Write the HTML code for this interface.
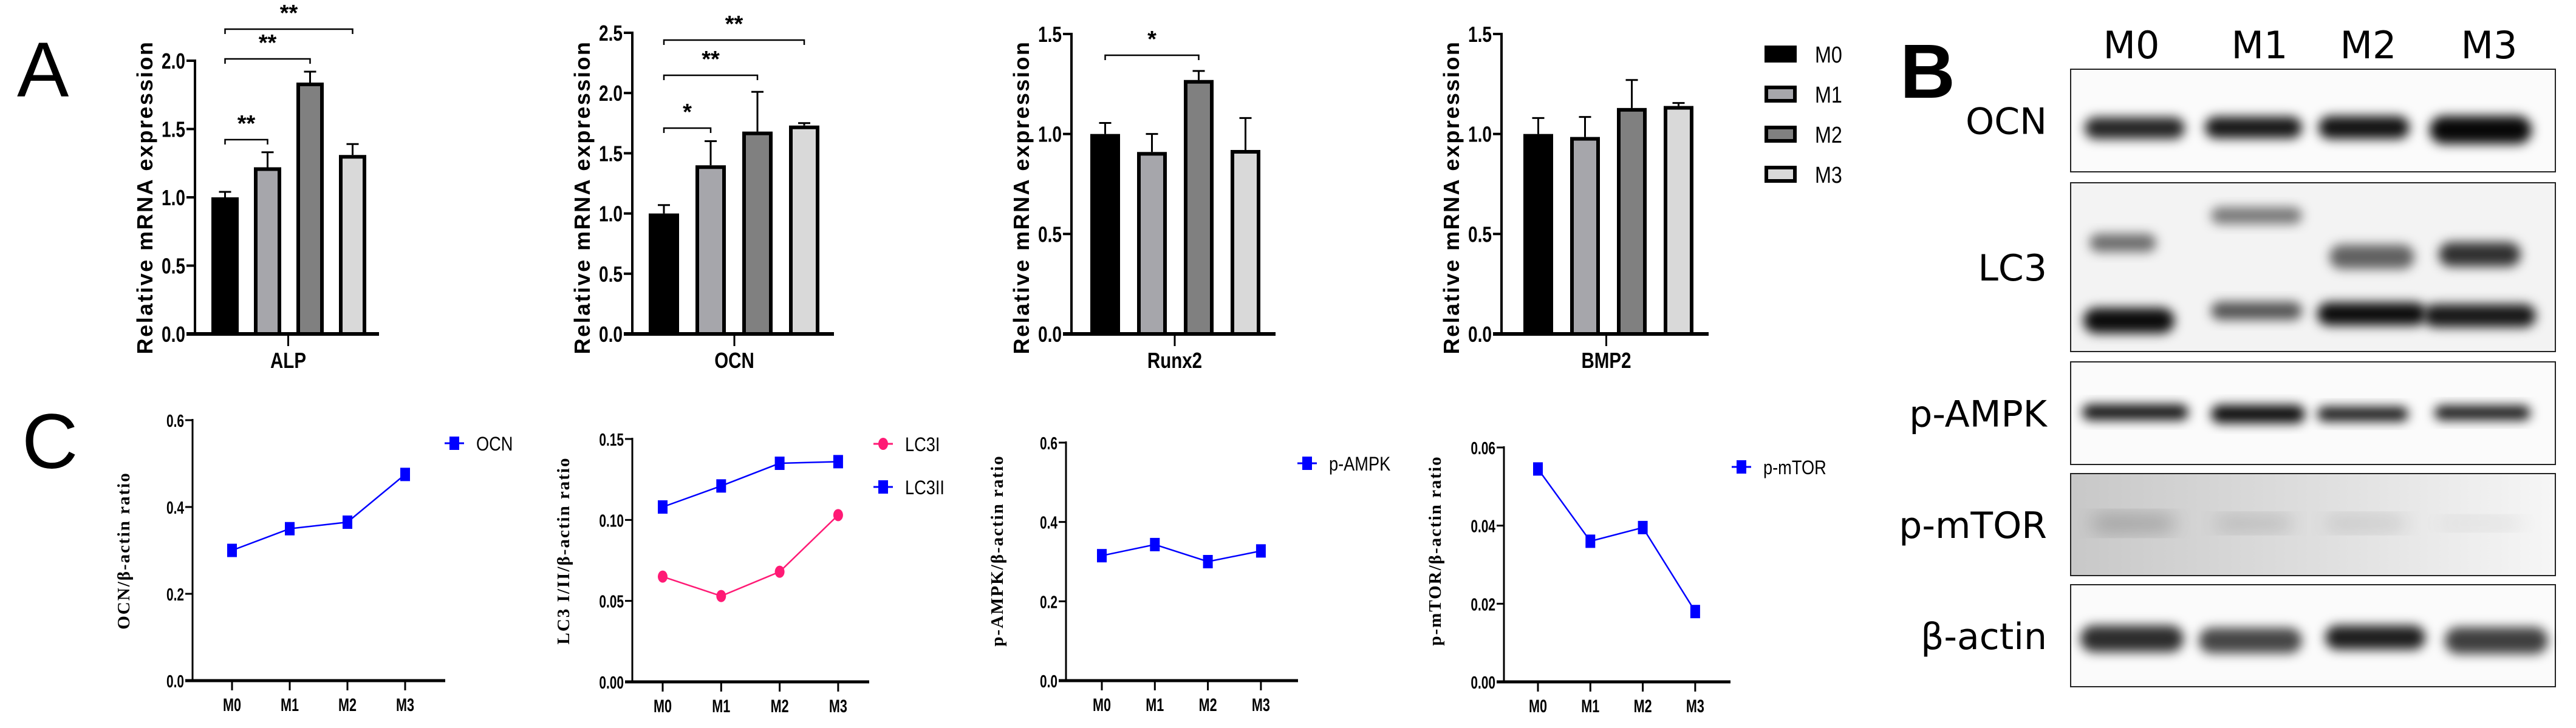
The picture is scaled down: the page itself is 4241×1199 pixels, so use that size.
<!DOCTYPE html>
<html><head><meta charset="utf-8"><style>
html,body{margin:0;padding:0;background:#fff;}
svg{display:block;}
.tk{font-family:"Liberation Sans",sans-serif;font-weight:bold;}
</style></head><body>
<svg id="fig" width="4241" height="1199" viewBox="0 0 4241 1199" xmlns="http://www.w3.org/2000/svg">
<defs>
<filter id="blur" x="-20%" y="-60%" width="140%" height="220%"><feGaussianBlur stdDeviation="9"/></filter>
<filter id="blur2" x="-20%" y="-60%" width="140%" height="220%"><feGaussianBlur stdDeviation="16"/></filter>
<linearGradient id="mtorbg" x1="0" x2="1" y1="0" y2="0"><stop offset="0" stop-color="#c8c8c8"/><stop offset="0.5" stop-color="#dedede"/><stop offset="1" stop-color="#f6f6f6"/></linearGradient>
</defs>
<text x="28" y="159" font-family="Liberation Sans,sans-serif" font-size="128" fill="#000">A</text>
<text x="3128" y="161" font-family="Liberation Sans,sans-serif" font-weight="bold" font-size="126" fill="#000">B</text>
<text x="36" y="771" font-family="Liberation Sans,sans-serif" font-size="128" fill="#000">C</text>
<g id="bars"></g>
<g id="lines"></g>
<g id="blots"></g>
</svg>
<script>
const NS="http://www.w3.org/2000/svg";
function mk(tag,attrs,parent){const e=document.createElementNS(NS,tag);for(const k in attrs)e.setAttribute(k,attrs[k]);parent.appendChild(e);return e;}

// ---------- Panel A data ----------
const groups=["M0","M1","M2","M3"];
const alpMean=[1.0,1.22,1.84,1.31];
const alpErr=[0.04,0.11,0.08,0.08];
const ocnMean=[1.0,1.40,1.68,1.73];
const ocnErr=[0.07,0.20,0.33,0.02];
const runxMean=[1.0,0.91,1.27,0.92];
const runxErr=[0.055,0.09,0.045,0.16];
const bmpMean=[1.0,0.985,1.13,1.14];
const bmpErr=[0.08,0.10,0.14,0.015];
const ticks20=["0.0","0.5","1.0","1.5","2.0"];
const ticks25=["0.0","0.5","1.0","1.5","2.0","2.5"];
const ticks15=["0.0","0.5","1.0","1.5"];
const barFills=["#000000","#a6a6ab","#808080","#d9d9d9"];

// ---------- Panel C data ----------
const ocnRatio=[0.30,0.35,0.365,0.475];
const lc3i=[0.065,0.053,0.068,0.103];
const lc3ii=[0.108,0.121,0.135,0.136];
const ampk=[0.315,0.343,0.30,0.327];
const mtor=[0.0545,0.036,0.0395,0.018];
const t06=["0.0","0.2","0.4","0.6"];
const t015=["0.00","0.05","0.10","0.15"];
const t006=["0.00","0.02","0.04","0.06"];

const gB=document.getElementById('bars');
function barChart(o){
  const g=mk('g',{},gB);
  
  
  const max=parseFloat(o.ticks[o.ticks.length-1]);
  const y=v=>o.base-(v/max)*(o.base-o.top);
  const ya=mk('line',{x1:o.ax,y1:o.top-2,x2:o.ax,y2:o.base,stroke:'#000','stroke-width':4},g);
  
  o.ticks.forEach(t=>{const v=parseFloat(t);const yy=y(v);
    mk('line',{x1:o.ax-14,y1:yy,x2:o.ax,y2:yy,stroke:'#000','stroke-width':4},g);
    const tx=mk('text',{x:o.ax-16,y:yy+13,'text-anchor':'end','font-size':36,'class':'tk',transform:`translate(${o.ax-16},0) scale(0.78,1) translate(${-(o.ax-16)},0)`},g);
    tx.textContent=t;});
  const xa=mk('line',{x1:o.ax-14,y1:o.base,x2:o.axEnd,y2:o.base,stroke:'#000','stroke-width':6},g);
  
  const mid=(o.ax+o.axEnd)/2+2;
  mk('line',{x1:mid,y1:o.base,x2:mid,y2:o.base+20,stroke:'#000','stroke-width':3},g);
  const xl=mk('text',{x:mid,y:o.base+56,'text-anchor':'middle','font-size':36,'class':'tk',transform:`translate(${mid},0) scale(0.82,1) translate(${-mid},0)`},g);
  xl.textContent=o.label;
  const cy=325;
  const yt=mk('text',{x:o.ax-70,y:cy,'text-anchor':'middle','font-size':36,'class':'tk',transform:`rotate(-90 ${o.ax-70} ${cy})`,'letter-spacing':'2.5'},g);
  yt.textContent='Relative mRNA expression';
  const cx=[];
  o.mean.forEach((m,i)=>{
    const x0=o.ax+o.off+i*o.step;cx.push(x0+o.w/2);
    const yt2=y(m);
    mk('line',{x1:x0+o.w/2,y1:yt2,x2:x0+o.w/2,y2:y(m+o.err[i]),stroke:'#000','stroke-width':3},g);
    mk('line',{x1:x0+o.w/2-10,y1:y(m+o.err[i]),x2:x0+o.w/2+10,y2:y(m+o.err[i]),stroke:'#000','stroke-width':3},g);
    const r=mk('rect',{x:x0+3,y:yt2+3,width:o.w-6,height:o.base-yt2-3,fill:barFills[i],stroke:'#000','stroke-width':6},g);
    
  });
  (o.sig||[]).forEach(s=>{
    const a=cx[s[0]],b=cx[s[1]],yy=s[2];
    mk('path',{d:`M${a} ${yy+8}V${yy}H${b}V${yy+8}`,fill:'none',stroke:'#000','stroke-width':2.5},g);
    const st=mk('text',{x:(a+b)/2,y:yy-14,'text-anchor':'middle','font-size':38,'class':'tk'},g);
    st.textContent=s[3];
  });
}
barChart({name:'alp-bar-chart',label:'ALP',ax:321,axEnd:624,top:100,base:550,ticks:ticks20,mean:alpMean,err:alpErr,off:27,step:70,w:45,
  sig:[[0,1,230,'**'],[0,2,97,'**'],[0,3,48,'**']]});
barChart({name:'ocn-bar-chart',label:'OCN',ax:1041,axEnd:1373,top:54,base:550,ticks:ticks25,mean:ocnMean,err:ocnErr,off:27,step:77,w:50,
  sig:[[0,1,211,'*'],[0,2,124,'**'],[0,3,66,'**']]});
barChart({name:'runx2-bar-chart',label:'Runx2',ax:1764,axEnd:2100,top:56,base:550,ticks:ticks15,mean:runxMean,err:runxErr,off:31,step:77,w:49,
  sig:[[0,2,91,'*']]});
barChart({name:'bmp2-bar-chart',label:'BMP2',ax:2472,axEnd:2813,top:56,base:550,ticks:ticks15,mean:bmpMean,err:bmpErr,off:36,step:77,w:49});

const lg=mk('g',{},gB);

groups.forEach((gname,i)=>{
  const yy=89+i*66;
  const r=mk('rect',{x:2908,y:yy-11,width:47,height:22,fill:barFills[i],stroke:'#000','stroke-width':6},lg);
  
  const t=mk('text',{x:2988,y:yy+14,'font-size':38,'font-family':'Liberation Sans,sans-serif',transform:`translate(2988,0) scale(0.85,1) translate(-2988,0)`},lg);
  t.textContent=gname;
});

// ---------- Panel C ----------
const gL=document.getElementById('lines');
function lineChart(o){
  const g=mk('g',{},gL);
  
  const max=parseFloat(o.ticks[o.ticks.length-1]);
  const y=v=>o.base-(v/max)*(o.base-o.top);
  const x=i=>o.x0+i*o.step;
  mk('line',{x1:o.ax,y1:o.top-2,x2:o.ax,y2:o.base,stroke:'#000','stroke-width':3},g);
  o.ticks.forEach(t=>{const yy=y(parseFloat(t));
    mk('line',{x1:o.ax-12,y1:yy,x2:o.ax,y2:yy,stroke:'#000','stroke-width':3},g);
    const tx=mk('text',{x:o.ax-14,y:yy+11,'text-anchor':'end','font-size':29,'class':'tk',transform:`translate(${o.ax-14},0) scale(0.72,1) translate(${-(o.ax-14)},0)`},g);
    tx.textContent=t;});
  mk('line',{x1:o.ax-12,y1:o.base,x2:o.axEnd,y2:o.base,stroke:'#000','stroke-width':5},g);
  groups.forEach((gn,i)=>{
    mk('line',{x1:x(i),y1:o.base,x2:x(i),y2:o.base+16,stroke:'#000','stroke-width':3},g);
    const t=mk('text',{x:x(i),y:o.base+50,'text-anchor':'middle','font-size':30,'class':'tk',transform:`translate(${x(i)},0) scale(0.72,1) translate(${-x(i)},0)`},g);
    t.textContent=gn;
  });
  const cy=907;
  const yt=mk('text',{x:o.ax-104,y:cy,'text-anchor':'middle','font-size':29,'font-weight':'bold','font-family':'Liberation Serif,serif',transform:`rotate(-90 ${o.ax-104} ${cy})`,'letter-spacing':'2'},g);
  yt.textContent=o.title;
  o.series.forEach((s,si)=>{
    const pts=s.data.map((v,i)=>x(i)+','+y(v)).join(' ');
    const pl=mk('polyline',{points:pts,fill:'none',stroke:s.color,'stroke-width':2.5},g);
    
    s.data.forEach((v,i)=>{
      let m;
      if(s.shape==='circle') m=mk('ellipse',{cx:x(i),cy:y(v),rx:8,ry:10,fill:s.color},g);
      else m=mk('rect',{x:x(i)-8,y:y(v)-11,width:16,height:22,fill:s.color},g);
      
    });
    const lx=o.legX, ly=o.legY+si*71;
    const lgE=mk('g',{},g);
    
    mk('line',{x1:lx-16,y1:ly,x2:lx+16,y2:ly,stroke:s.color,'stroke-width':3},lgE);
    if(s.shape==='circle') mk('ellipse',{cx:lx,cy:ly,rx:8,ry:10,fill:s.color},lgE);
    else mk('rect',{x:lx-8,y:ly-11,width:16,height:22,fill:s.color},lgE);
    const t=mk('text',{x:lx+36,y:ly+12,'font-size':32,'font-family':'Liberation Sans,sans-serif',transform:`translate(${lx+36},0) scale(0.85,1) translate(${-(lx+36)},0)`},lgE);
    t.textContent=s.name;
  });
}
lineChart({name:'ocn-ratio-chart',ax:317,axEnd:733,top:692,base:1121,ticks:t06,x0:382,step:95,title:'OCN/β-actin ratio',legX:748,legY:730,
  series:[{name:'OCN',data:ocnRatio,color:'#0000ff',shape:'square'}]});
lineChart({name:'lc3-ratio-chart',ax:1041,axEnd:1431,top:723,base:1123,ticks:t015,x0:1091,step:96.3,title:'LC3 I/II/β-actin ratio',legX:1454,legY:731,
  series:[{name:'LC3I',data:lc3i,color:'#ff1a75',shape:'circle'},{name:'LC3II',data:lc3ii,color:'#0000ff',shape:'square'}]});
lineChart({name:'ampk-ratio-chart',ax:1755,axEnd:2137,top:729,base:1121,ticks:t06,x0:1814,step:87.3,title:'p-AMPK/β-actin ratio',legX:2152,legY:763,
  series:[{name:'p-AMPK',data:ampk,color:'#0000ff',shape:'square'}]});
lineChart({name:'mtor-ratio-chart',ax:2476,axEnd:2849,top:737,base:1123,ticks:t006,x0:2532,step:86.3,title:'p-mTOR/β-actin ratio',legX:2867,legY:769,
  series:[{name:'p-mTOR',data:mtor,color:'#0000ff',shape:'square'}]});

// ---------- Panel B blots ----------
const gW=document.getElementById('blots');
const laneX=[3509,3720,3899,4098];
groups.forEach((gn,i)=>{
  const t=mk('text',{x:laneX[i],y:96,'text-anchor':'middle','font-size':62,'font-family':'DejaVu Sans,sans-serif'},gW);
  t.textContent=gn;
});
const boxes=[["OCN",114,283],["LC3",301,579],["p-AMPK",596,765],["p-mTOR",780,948],["β-actin",963,1131]];
boxes.forEach(b=>{
  const g=mk('g',{},gW);
  
  mk('rect',{x:3409,y:b[1],width:798,height:b[2]-b[1],fill:b[0]==='p-mTOR'?'url(#mtorbg)':(b[0]==='LC3'?'#f3f3f3':'#fbfbfb'),stroke:'#222','stroke-width':2},g);
  const t=mk('text',{x:3370,y:(b[1]+b[2])/2+22,'text-anchor':'end','font-size':60,'font-family':'DejaVu Sans,sans-serif'},g);
  t.textContent=b[0];
});
function band(x,y,w,h,op,bl){mk('rect',{x:x,y:y-h/2,width:w,height:h,rx:h/2,fill:'#000','fill-opacity':op,filter:bl||'url(#blur)'},gW);}
band(3432,211,165,36,0.85);band(3630,210,160,36,0.9);band(3817,210,150,38,0.92);band(4000,214,168,46,0.97);
band(3440,400,110,30,0.55);band(3640,355,150,28,0.5);band(3835,423,140,40,0.6);band(4015,419,135,40,0.8);
band(3430,528,150,42,0.95);band(3640,512,150,30,0.65);band(3815,517,180,38,0.95);band(3990,520,185,38,0.9);
band(3428,679,175,26,0.92);band(3640,682,155,30,0.95);band(3815,682,150,24,0.9);band(4008,680,158,24,0.9);
band(3445,862,135,22,0.28,'url(#blur2)');band(3648,862,125,18,0.2,'url(#blur2)');band(3830,862,130,18,0.17,'url(#blur2)');band(4020,862,130,14,0.1,'url(#blur2)');
band(3425,1052,170,44,0.82);band(3620,1055,170,42,0.72);band(3828,1050,165,40,0.88);band(4025,1055,170,44,0.75);
</script>
</body></html>
